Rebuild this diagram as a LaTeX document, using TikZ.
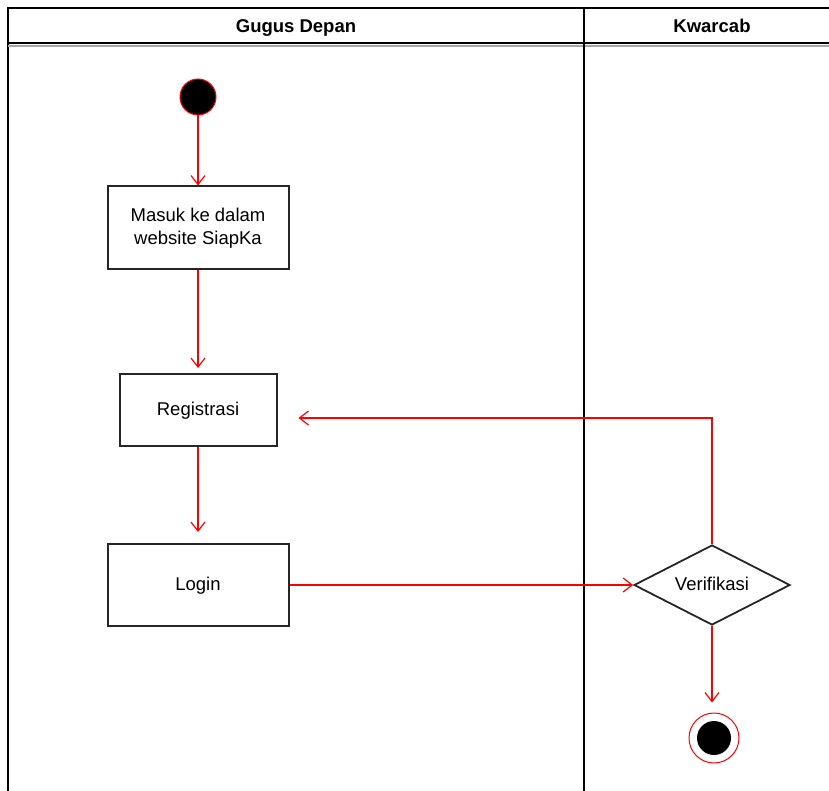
\documentclass[tikz,border=0pt]{standalone}
\usepackage{fontspec}
\setmainfont{Liberation Sans}
\usetikzlibrary{arrows.meta,shapes.geometric}
\begin{document}
\begin{tikzpicture}[x=1pt,y=-1pt,
  act/.style={draw=black!85,line width=2pt,minimum width=181pt,minimum height=83pt,align=center,font=\fontsize{18.5}{23}\selectfont,inner sep=0pt},
  flow/.style={draw=red,line width=1.2pt,-{Straight Barb[length=9pt,width=14pt,line width=1.2pt]}},
  lane/.style={draw=black,line width=2pt},
  hdr/.style={font=\bfseries\fontsize{18.5}{23}\selectfont,anchor=base}]
\useasboundingbox (0,0) rectangle (829,791);
% swimlanes
\draw[lane] (8,791) -- (8,8) -- (835,8);
\draw[black!35,line width=2pt] (8,46) -- (835,46);
\draw[lane] (8,43.5) -- (835,43.5);
\draw[lane] (584,8) -- (584,791);
\node[hdr] (h1) at (296,32.5) {Gugus Depan};
\node[hdr] (h2) at (712,32.5) {Kwarcab};
% nodes
\node[circle,fill=black,draw=red,line width=1pt,minimum size=36pt,inner sep=0pt] (start) at (198,97) {};
\node[act] (masuk) at (198,228) {Masuk ke dalam\\website SiapKa};
\node[act,minimum width=157pt,minimum height=72pt,text height=14pt,text depth=4pt] (reg) at (198,410) {Registrasi};
\node[act,minimum height=82pt,text height=14pt,text depth=4pt] (login) at (198,585) {Login};
\node[diamond,draw=black!85,line width=1.8pt,minimum width=156pt,minimum height=80pt,inner sep=0pt,aspect=1.95,font=\fontsize{18.5}{23}\selectfont,text height=14pt,text depth=4pt] (ver) at (712,585) {Verifikasi};
\node[circle,draw=red,line width=1pt,minimum size=50pt,inner sep=0pt] (endo) at (714,738) {};
\node[circle,fill=black,minimum size=34pt,inner sep=0pt] (endi) at (714,738) {};
% flows
\draw[flow] (start.south) -- (masuk.north);
\draw[flow,shorten >=5pt] (masuk.south) -- (reg.north);
\draw[flow,shorten >=11pt] (reg.south) -- (login.north);
\draw[flow] (login.east) -- (ver.west);
\coordinate (turn) at (712,418);
\draw[flow,shorten >=21pt] (ver.north) -- (turn) -- (reg.east |- turn);
\draw[flow,shorten >=10pt] (ver.south) -- (endo.north -| ver.south);
\end{tikzpicture}
\end{document}
